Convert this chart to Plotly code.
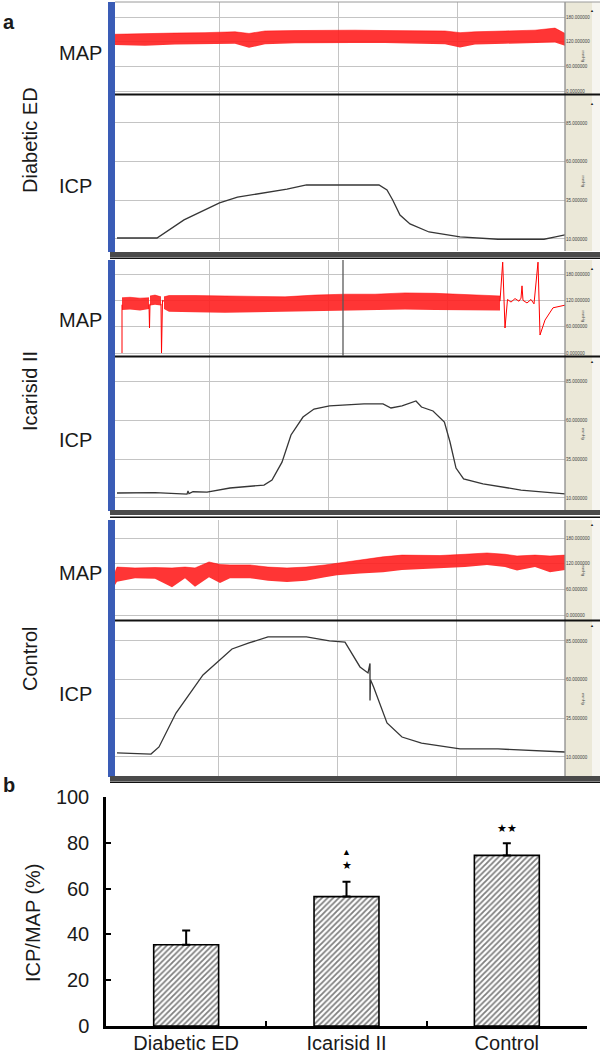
import plotly.graph_objects as go

W, H = 600, 1055

# ---- panel a: traces (t = seconds across the window) ----
groups = ["Diabetic ED", "Icarisid II", "Control"]

icp_ed_t = [2, 42, 69, 104.5, 122.5, 153, 172, 191.5, 222, 264, 272, 277.7, 285, 295, 314, 345, 383, 429, 440.5, 450]
icp_ed = [10.6, 10.6, 22.3, 33.3, 37, 40.4, 42.2, 44.9, 44.9, 44.9, 41.7, 35.2, 25.5, 19.7, 14.5, 11.3, 9.8, 9.8, 11.3, 12.6]

icp_ic_t = [2, 40, 72, 73, 74, 78, 92, 115, 149, 157, 167, 176, 188, 199, 214.5, 249, 268, 276, 287, 301,
            306.5, 318, 329.4, 335, 341, 348.6, 368, 406, 450]
icp_ic = [13.2, 13.4, 12.5, 14.5, 12.8, 14.0, 13.8, 16.4, 18.3, 21.5, 33, 50.4, 61.9, 67, 69, 70.3, 70.3, 67.7, 69, 72.2,
          68.3, 65.8, 58.7, 45.9, 29.2, 22.2, 19, 15.1, 12.6]

icp_ct_t = [2, 36, 44, 61, 88, 117, 134, 153, 191.5, 214.5, 230, 245, 253, 255, 255, 255.5, 258.6, 272, 287, 306.5,
            345, 383, 450]
icp_ct = [12.6, 11.9, 16.5, 38.4, 63, 79.8, 83.7, 87.6, 87.6, 85, 84.3, 68.2, 64.3, 70.5, 46.5, 60, 55.2, 32, 22.9, 19,
          15.2, 15.2, 13.2]

# MAP envelopes (upper / lower edge of the pulsatile trace)
map_ed_t = [0, 30, 60, 90, 120, 134, 150, 180, 210, 240, 270, 300, 330, 345, 360, 390, 420, 440, 450]
map_ed_hi = [138, 140, 141, 142, 144, 140, 146, 147, 148, 148, 147, 147, 146, 142, 144, 146, 148, 153, 140]
map_ed_lo = [112, 110, 113, 114, 115, 105, 114, 116, 117, 117, 117, 116, 114, 106, 113, 115, 116, 118, 110]

map_ic_a_t = [7, 15, 25, 34]
map_ic_a_hi = [126, 127, 125, 126]
map_ic_a_lo = [98, 99, 97, 100]
map_ic_a2_t = [35, 40, 46]
map_ic_a2_hi = [130, 132, 128]
map_ic_a2_lo = [108, 110, 108]
map_ic_b_t = [49, 54, 80, 110, 140, 170, 200, 230, 260, 290, 320, 350, 385]
map_ic_b_hi = [128, 131, 131, 130, 128, 128, 132, 134, 134, 137, 136, 134, 130]
map_ic_b_lo = [100, 94, 93, 92, 93, 94, 96, 97, 98, 99, 98, 98, 97]
# artefacts / spikes in the Icarisid II MAP record
map_ic_art_t = [7, 7, None, 34, 34.5, 35, None, 46, 46.5, 47.5, 49, None, 385, 387.7, 390, 392.5, 396, 400, 404, 406,
                407, 408, 412, 416, 419, 423, 425, 430, 438, 450]
map_ic_art = [0, 110, None, 110, 57, 112, None, 112, 0, 120, 118, None, 118, 207, 57, 122, 116, 124, 118, 125,
              153, 120, 114, 122, 112, 207, 41, 75, 103, 109]

map_ct_t = [0, 2, 20, 40, 57, 70, 80, 94, 105, 115, 135, 153, 172, 191, 210, 222, 245, 268, 287, 305, 325, 350, 372,
            390, 402, 420, 435, 450]
map_ct_hi = [100, 112, 110, 111, 110, 112, 110, 124, 118, 117, 117, 112, 110, 112, 117, 121, 128, 136, 140, 139, 139,
             142, 145, 142, 138, 140, 138, 140]
map_ct_lo = [70, 78, 86, 85, 65, 86, 66, 88, 75, 86, 86, 80, 77, 80, 88, 93, 97, 100, 105, 107, 109, 112, 117, 112,
             104, 112, 100, 105]

map_ticks = [0, 60, 120, 180]
icp_ticks = [10, 35, 60, 85]

# ---- panel b ----
bar_groups = ["Diabetic ED", "Icarisid II", "Control"]
ratio = [35.5, 56.5, 74.5]
ratio_err = [6.2, 6.5, 5.3]

FONT = "Arial, Liberation Sans, sans-serif"
RED = "#ff0000"
GRID = "#c4c4c4"


def fx(p):
    return p / W


def fy(p):
    return 1 - p / H


# pixel layout of the three recorder panels
panels = [
    dict(map_px=(2, 94), icp_px=(95, 251), map_rng=[-7.3, 216.5], icp_rng=[2.2, 103.1],
         vgrid=[104, 223, 342], band=(252, 259), label_y=140, map_y=40, icp_y=173),
    dict(map_px=(260, 356), icp_px=(357, 510), map_rng=[-6.8, 211.9], icp_rng=[2.3, 100.4],
         vgrid=[94, 213, 332], band=(510, 518), label_y=391, map_y=307, icp_y=440),
    dict(map_px=(520, 620), icp_px=(621, 776), map_rng=[-11.7, 222.1], icp_rng=[-2.3, 97.9],
         vgrid=[103, 222, 341], band=(776, 783), label_y=659, map_y=573, icp_y=707),
]

fig = go.Figure()
layout = {}
shapes = []
annotations = []


def band(t, lo, hi, xa, ya):
    fig.add_trace(go.Scatter(x=t, y=lo, mode="lines", line=dict(width=0, color=RED),
                             xaxis=xa, yaxis=ya, hoverinfo="skip", showlegend=False))
    fig.add_trace(go.Scatter(x=t, y=hi, mode="lines", line=dict(width=0.5, color=RED), fill="tonexty",
                             fillcolor="rgba(255,0,0,0.85)",
                             fillpattern=dict(shape="|", fgcolor=RED, bgcolor="rgba(255,40,40,0.85)",
                                              size=2, solidity=0.5),
                             xaxis=xa, yaxis=ya, hoverinfo="skip", showlegend=False))


icp_series = [(icp_ed_t, icp_ed), (icp_ic_t, icp_ic), (icp_ct_t, icp_ct)]
map_series = [
    [(map_ed_t, map_ed_lo, map_ed_hi)],
    [(map_ic_a_t, map_ic_a_lo, map_ic_a_hi), (map_ic_a2_t, map_ic_a2_lo, map_ic_a2_hi),
     (map_ic_b_t, map_ic_b_lo, map_ic_b_hi)],
    [(map_ct_t, map_ct_lo, map_ct_hi)],
]

for i, p in enumerate(panels):
    nm, ni = 2 * i + 1, 2 * i + 2
    for n, (top, bot), rng, ticks in [(nm, p["map_px"], p["map_rng"], map_ticks),
                                      (ni, p["icp_px"], p["icp_rng"], icp_ticks)]:
        xs = "" if n == 1 else str(n)
        layout["xaxis" + xs] = dict(domain=[fx(115), fx(565)], anchor="y" + xs, range=[0, 450],
                                    tickvals=p["vgrid"], showticklabels=False, ticks="", automargin=False,
                                    showgrid=True, gridcolor=GRID, gridwidth=1.3, zeroline=False,
                                    showline=False)
        layout["yaxis" + xs] = dict(domain=[fy(bot), fy(top)], anchor="x" + xs, range=rng,
                                    tickvals=ticks, tickformat=".6f", side="right", ticks="", automargin=False,
                                    tickfont=dict(size=4.5, color="#444", family=FONT),
                                    ticklabelstandoff=0,
                                    showgrid=True, gridcolor=GRID, gridwidth=1.3, zeroline=False,
                                    showline=False)
        # beige scale strip and scroll strip
        shapes.append(dict(type="rect", xref="paper", yref="paper", x0=fx(565), x1=fx(592),
                           y0=fy(bot), y1=fy(top), fillcolor="#ebe8d8", line=dict(width=0), layer="below"))
        shapes.append(dict(type="rect", xref="paper", yref="paper", x0=fx(592), x1=fx(600),
                           y0=fy(bot), y1=fy(top), fillcolor="#f6f5f0", line=dict(width=0), layer="below"))
        shapes.append(dict(type="line", xref="paper", yref="paper", x0=fx(565), x1=fx(565),
                           y0=fy(bot), y1=fy(top), line=dict(color="#8c8c8c", width=1.3)))
        annotations.append(dict(xref="paper", yref="paper", x=fx(596), y=fy(top + 4), text="▲",
                                showarrow=False, font=dict(size=4, color="#222")))
        annotations.append(dict(xref="paper", yref="paper", x=fx(588), y=fy((top + bot) / 2), text="mmHg",
                                textangle=90, showarrow=False, font=dict(size=4, color="#444", family=FONT)))

    xm = "x" if nm == 1 else "x" + str(nm)
    ym = "y" if nm == 1 else "y" + str(nm)
    for t, lo, hi in map_series[i]:
        band(t, lo, hi, xm, ym)

    t, v = icp_series[i]
    fig.add_trace(go.Scatter(x=t, y=v, mode="lines", line=dict(color="#363636", width=1.3),
                             xaxis="x" + str(ni), yaxis="y" + str(ni), showlegend=False))

    top, bot = p["map_px"][0], p["icp_px"][1]
    # blue side bar
    shapes.append(dict(type="rect", xref="paper", yref="paper", x0=fx(108), x1=fx(115),
                       y0=fy(bot + 1), y1=fy(top), fillcolor="#3a5cb6", line=dict(width=0)))
    # MAP / ICP separator
    sep = p["map_px"][1] + 0.5
    shapes.append(dict(type="line", xref="paper", yref="paper", x0=fx(115), x1=fx(600),
                       y0=fy(sep), y1=fy(sep), line=dict(color="#111", width=2)))
    # window frame at the bottom
    b0, b1 = p["band"]
    shapes.append(dict(type="rect", xref="paper", yref="paper", x0=fx(110), x1=fx(600),
                       y0=fy(b0 + 5), y1=fy(b0), fillcolor="#4a4a4a", line=dict(width=0)))
    shapes.append(dict(type="line", xref="paper", yref="paper", x0=fx(110), x1=fx(600),
                       y0=fy(b1 - 0.8), y1=fy(b1 - 0.8), line=dict(color="#111", width=1.6)))

    annotations.append(dict(xref="paper", yref="paper", x=fx(30), y=fy(p["label_y"]), text=groups[i],
                            textangle=-90, xanchor="center", yanchor="middle", showarrow=False,
                            font=dict(size=20, color="#1a1a1a", family=FONT)))
    annotations.append(dict(xref="paper", yref="paper", x=fx(57), y=fy(p["map_y"]), text="MAP",
                            xanchor="left", showarrow=False, font=dict(size=20, color="#1a1a1a", family=FONT)))
    annotations.append(dict(xref="paper", yref="paper", x=fx(57), y=fy(p["icp_y"]), text="ICP",
                            xanchor="left", showarrow=False, font=dict(size=20, color="#1a1a1a", family=FONT)))

# Icarisid II MAP artefacts and the cursor line
fig.add_trace(go.Scatter(x=map_ic_art_t, y=map_ic_art, mode="lines", line=dict(color=RED, width=1),
                         xaxis="x3", yaxis="y3", showlegend=False))
shapes.append(dict(type="line", xref="x3", yref="paper", x0=228, x1=228, y0=fy(356), y1=fy(260),
                   line=dict(color="#5a5a5a", width=1.3)))
shapes.append(dict(type="line", xref="paper", yref="paper", x0=fx(115), x1=fx(600), y0=fy(2), y1=fy(2),
                   line=dict(color="#9a9a9a", width=1)))

# ---- panel b: bar chart ----
fig.add_trace(go.Bar(x=bar_groups, y=ratio, width=0.405, xaxis="x7", yaxis="y7",
                     marker=dict(color="white", line=dict(color="black", width=1.6),
                                 pattern=dict(shape="/", fgcolor="black", bgcolor="white", size=4, solidity=0.45)),
                     error_y=dict(type="data", symmetric=False, array=ratio_err, arrayminus=[0, 0, 0],
                                  color="black", thickness=2, width=4),
                     showlegend=False))

layout["xaxis7"] = dict(domain=[fx(106), fx(587)], anchor="y7", type="category", range=[-0.5, 2.5],
                        showline=True, linecolor="black", linewidth=2.5, ticks="inside", tickson="boundaries",
                        ticklen=5, tickwidth=2, tickcolor="black", automargin=False, ticklabelstandoff=-3,
                        tickfont=dict(size=20, color="#1a1a1a", family=FONT), showgrid=False)
layout["yaxis7"] = dict(domain=[fy(1026), fy(797)], anchor="x7", range=[0, 100], tickvals=[0, 20, 40, 60, 80, 100],
                        showline=True, linecolor="black", linewidth=2.5, ticks="inside", ticklen=5, tickwidth=2,
                        tickcolor="black", ticklabelstandoff=10, automargin=False,
                        tickfont=dict(size=20, color="#1a1a1a", family=FONT), showgrid=False, zeroline=False)

annotations += [
    dict(xref="x7", yref="y7", x="Icarisid II", y=76, text="▲", showarrow=False,
         font=dict(size=9, color="black")),
    dict(xref="x7", yref="y7", x="Icarisid II", y=70.5, text="★", showarrow=False,
         font=dict(size=11, color="black")),
    dict(xref="x7", yref="y7", x="Control", y=86.5, text="★★", showarrow=False,
         font=dict(size=11, color="black")),
    dict(xref="paper", yref="paper", x=fx(33), y=fy(923), text="ICP/MAP (%)", textangle=-90,
         xanchor="center", yanchor="middle", showarrow=False,
         font=dict(size=20, color="#1a1a1a", family=FONT)),
    dict(xref="paper", yref="paper", x=fx(1), y=fy(9), text="<b>a</b>", xanchor="left", showarrow=False,
         font=dict(size=20, color="#1a1a1a", family=FONT)),
    dict(xref="paper", yref="paper", x=fx(1), y=fy(798), text="<b>b</b>", xanchor="left", showarrow=False,
         font=dict(size=20, color="#1a1a1a", family=FONT)),
]

fig.update_layout(width=W, height=H, margin=dict(l=0, r=0, t=0, b=0, autoexpand=False), paper_bgcolor="white",
                  plot_bgcolor="white", shapes=shapes, annotations=annotations, bargap=0.3,
                  font=dict(family=FONT), **layout)

# drop the browser's default page margin so the figure sits at the window origin
fig.write_html("out.html", config={"displayModeBar": False},
               post_script="document.body.style.margin='0px';")
